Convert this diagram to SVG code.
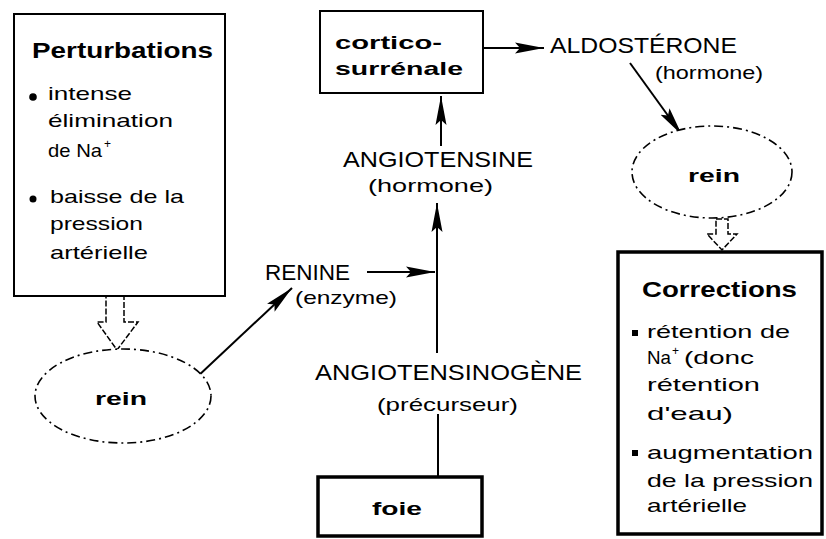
<svg xmlns="http://www.w3.org/2000/svg" width="826" height="539" viewBox="0 0 826 539">
<style>
text{font-family:"Liberation Sans",Arial,sans-serif;fill:#000}
.t{font-size:19px}
.L{font-size:22px}
.b{font-weight:bold}
.box{fill:#fff;stroke:#000;stroke-width:2}
.thick{fill:#fff;stroke:#000;stroke-width:3.5}
.ell{fill:#fff;stroke:#000;stroke-width:1.6;stroke-dasharray:9 4 2 4}
.ln{fill:none;stroke:#000;stroke-width:2}
.hollow{fill:#fff;stroke:#000;stroke-width:1.5;stroke-dasharray:6 2}
</style>
<defs>
<marker id="ah" markerUnits="userSpaceOnUse" markerWidth="34" markerHeight="16" refX="29" refY="8" orient="auto">
<path d="M0,2.5 L29,8 L0,13.5 L5,8 Z" fill="#000"/>
</marker>
</defs>
<rect width="826" height="539" fill="#fff"/>

<g id="connectors">
<polygon class="hollow" points="106,296 124,296 124,322 138,322 117,350 97,322 106,322"/>
<line class="ln" x1="197" y1="377" x2="292" y2="288" marker-end="url(#ah)"/>
<line class="ln" x1="367" y1="272" x2="435" y2="272" marker-end="url(#ah)"/>
<line class="ln" x1="437" y1="353" x2="437" y2="203" marker-end="url(#ah)"/>
<line class="ln" x1="441" y1="146" x2="441" y2="96" marker-end="url(#ah)"/>
<line class="ln" x1="483" y1="48" x2="544" y2="48" marker-end="url(#ah)"/>
<line class="ln" x1="630" y1="63" x2="682" y2="135" marker-end="url(#ah)"/>
<polygon class="hollow" points="716,219 728,219 728,234 737,234 722,250 707,234 716,234"/>
<line class="ln" x1="438" y1="477" x2="438" y2="414"/>
</g>

<g id="perturbations">
<rect class="box" x="14" y="14" width="211" height="282"/>
<text class="L b" x="32" y="58" textLength="181" lengthAdjust="spacingAndGlyphs">Perturbations</text>
<circle cx="33" cy="97" r="3.8"/>
<text class="t" x="48" y="100" textLength="84" lengthAdjust="spacingAndGlyphs">intense</text>
<text class="t" x="48" y="127" textLength="125" lengthAdjust="spacingAndGlyphs">élimination</text>
<text class="t" x="48" y="157" textLength="54" lengthAdjust="spacingAndGlyphs">de Na</text>
<text class="t" x="104" y="148" style="font-size:12px">+</text>
<circle cx="33" cy="199" r="3.5"/>
<text class="t" x="50" y="203" textLength="134" lengthAdjust="spacingAndGlyphs">baisse de la</text>
<text class="t" x="50" y="230" textLength="93" lengthAdjust="spacingAndGlyphs">pression</text>
<text class="t" x="50" y="259" textLength="98" lengthAdjust="spacingAndGlyphs">artérielle</text>
</g>

<g id="rein-gauche">
<ellipse class="ell" cx="123" cy="396" rx="88" ry="47"/>
<text class="t b" x="95" y="405" textLength="52" lengthAdjust="spacingAndGlyphs">rein</text>
</g>

<g id="renine">
<text class="L" x="265" y="280" textLength="85" lengthAdjust="spacingAndGlyphs">RENINE</text>
<text class="t" x="295" y="304" textLength="102" lengthAdjust="spacingAndGlyphs">(enzyme)</text>
</g>

<g id="angiotensinogene">
<text class="L" x="315" y="380" textLength="267" lengthAdjust="spacingAndGlyphs">ANGIOTENSINOGÈNE</text>
<text class="t" x="377" y="411" textLength="141" lengthAdjust="spacingAndGlyphs">(précurseur)</text>
</g>

<g id="foie">
<rect class="thick" x="318" y="477" width="164" height="59"/>
<text class="t b" x="372" y="515" textLength="50" lengthAdjust="spacingAndGlyphs">foie</text>
</g>

<g id="angiotensine">
<text class="L" x="343" y="167" textLength="190" lengthAdjust="spacingAndGlyphs">ANGIOTENSINE</text>
<text class="t" x="368" y="192" textLength="125" lengthAdjust="spacingAndGlyphs">(hormone)</text>
</g>

<g id="cortico-surrenale">
<rect class="box" x="320" y="11" width="163" height="82"/>
<text class="t b" x="335" y="49" textLength="107" lengthAdjust="spacingAndGlyphs">cortico-</text>
<text class="t b" x="335" y="75" textLength="128" lengthAdjust="spacingAndGlyphs">surrénale</text>
</g>

<g id="aldosterone">
<text class="L" x="550" y="53" textLength="187" lengthAdjust="spacingAndGlyphs">ALDOSTÉRONE</text>
<text class="t" x="655" y="79" textLength="108" lengthAdjust="spacingAndGlyphs">(hormone)</text>
</g>

<g id="rein-droit">
<ellipse class="ell" cx="712" cy="172" rx="80" ry="46"/>
<text class="t b" x="688" y="182" textLength="52" lengthAdjust="spacingAndGlyphs">rein</text>
</g>

<g id="corrections">
<rect class="thick" x="618" y="252" width="204" height="282"/>
<text class="L b" x="642" y="297" textLength="155" lengthAdjust="spacingAndGlyphs">Corrections</text>
<rect x="632" y="330" width="6" height="6"/>
<text class="t" x="647" y="338" textLength="143" lengthAdjust="spacingAndGlyphs">rétention de</text>
<text class="t" x="647" y="364" textLength="24" lengthAdjust="spacingAndGlyphs">Na</text>
<text class="t" x="672" y="355" style="font-size:12px">+</text>
<text class="t" x="684" y="364" textLength="70" lengthAdjust="spacingAndGlyphs">(donc</text>
<text class="t" x="647" y="391" textLength="113" lengthAdjust="spacingAndGlyphs">rétention</text>
<text class="t" x="647" y="420" textLength="86" lengthAdjust="spacingAndGlyphs">d'eau)</text>
<rect x="632" y="450" width="6" height="6"/>
<text class="t" x="647" y="459" textLength="166" lengthAdjust="spacingAndGlyphs">augmentation</text>
<text class="t" x="647" y="487" textLength="166" lengthAdjust="spacingAndGlyphs">de la pression</text>
<text class="t" x="647" y="512" textLength="100" lengthAdjust="spacingAndGlyphs">artérielle</text>
</g>
</svg>
